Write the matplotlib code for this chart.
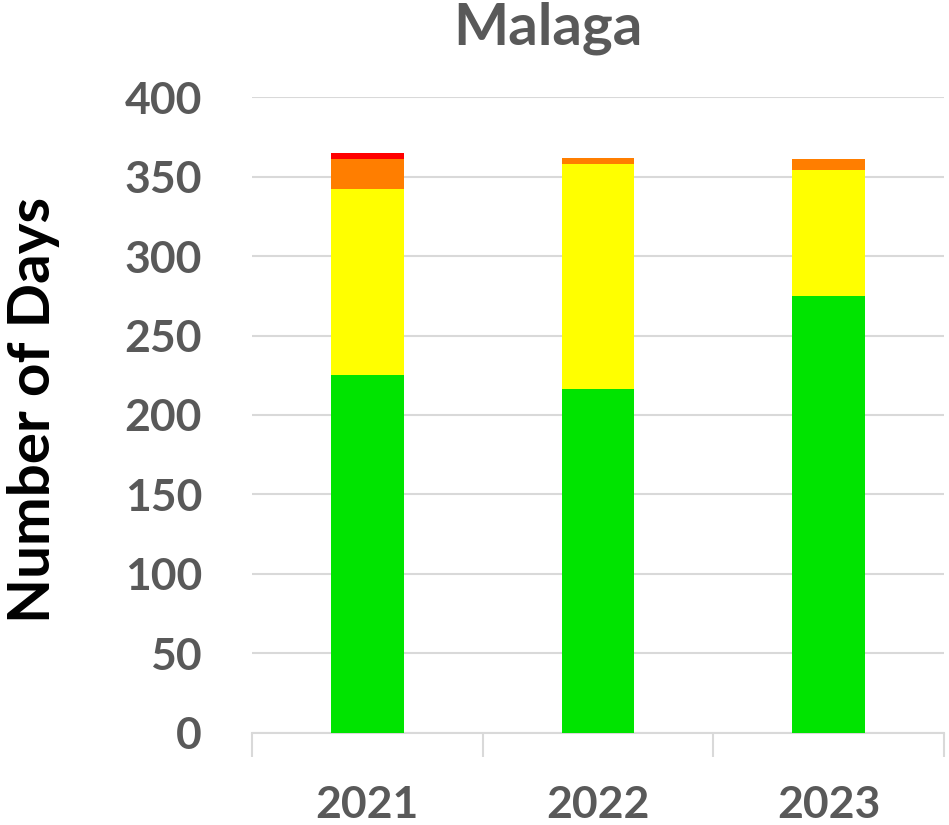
import numpy as np
import matplotlib
matplotlib.use('Agg')
import matplotlib.pyplot as plt

# days per air quality band for each year
years = ['2021', '2022', '2023']
good = [225, 216, 275]
moderate = [117, 142, 79]
sensitive = [19, 4, 7]
unhealthy = [4, 0, 0]

band_colors = ['#00E400', '#FFFF00', '#FF7E00', '#FF0000']
text_grey = '#595959'
grid_grey = '#D9D9D9'

plt.rcParams['font.family'] = ['Lato', 'DejaVu Sans']

fig = plt.figure(figsize=(9.49, 8.25), dpi=100)
ax = fig.add_axes([252/949, 1 - 732.5/825, (944-252)/949, (732.5-97.3)/825])

x = np.arange(len(years))
bottom = np.zeros(len(years))
for vals, col in zip([good, moderate, sensitive, unhealthy], band_colors):
    ax.bar(x, vals, width=0.316, bottom=bottom, color=col, zorder=3)
    bottom = bottom + np.array(vals)

# axes styling like the excel chart
ax.set_ylim(0, 400)
ax.set_xlim(-0.5, 2.5)
ax.set_yticks(np.arange(0, 401, 50))
ax.yaxis.grid(True, color=grid_grey, linewidth=1.5, zorder=0)
for s in ['top', 'right', 'left']:
    ax.spines[s].set_visible(False)
ax.spines['bottom'].set_color(grid_grey)
ax.spines['bottom'].set_linewidth(1.5)

ax.set_xticks(x)
ax.set_xticklabels(years)
ax.set_xticks([-0.5, 0.5, 1.5, 2.5], minor=True)
ax.tick_params(axis='x', which='minor', length=17, color=grid_grey, width=1.5)
ax.tick_params(axis='x', which='major', length=0, pad=38, labelsize=32, labelcolor=text_grey)
ax.tick_params(axis='y', length=0, pad=36, labelsize=32, labelcolor=text_grey)
for lab in ax.get_xticklabels() + ax.get_yticklabels():
    lab.set_fontweight('bold')

# label anchor is its right edge (bottom of the rotated text)
ax.set_ylabel('Number of Days', fontsize=42, fontweight='bold', color='black')
ax.yaxis.set_label_coords(-0.277, 0.508)

fig.text(548/949, 1 - 28/825, 'Malaga', ha='center', va='center',
         fontsize=42, fontweight='bold', color=text_grey)

plt.savefig('out.png', dpi=100)
